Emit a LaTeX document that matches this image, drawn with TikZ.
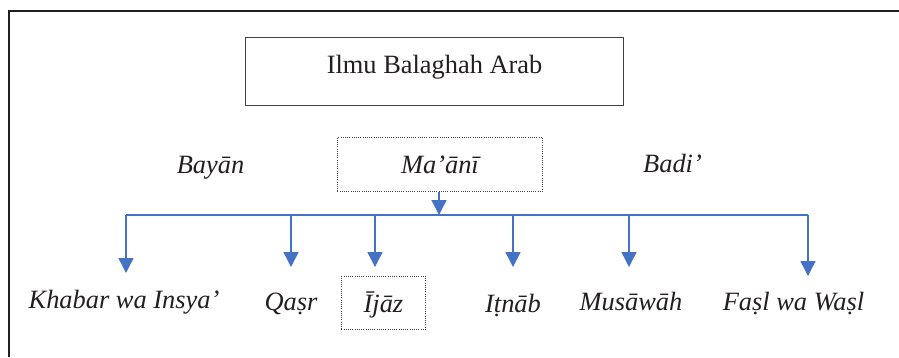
\documentclass[tikz,border=0pt]{standalone}
\usepackage{fontspec}
\setmainfont{Liberation Serif}
\usetikzlibrary{arrows.meta}
\definecolor{ink}{HTML}{231F20}
\definecolor{obl}{HTML}{4472C4}
\begin{document}
\begin{tikzpicture}[x=1bp,y=-1bp,
  every node/.style={font=\fontsize{26.4bp}{30bp}\selectfont, text=ink, inner sep=0pt},
  lbl/.style={font=\fontsize{26.4bp}{30bp}\selectfont\itshape, anchor=base},
  solidbox/.style={draw=ink!85, line width=1.1bp, anchor=north west},
  dotbox/.style={draw=ink!85, line width=0.9bp, dash pattern=on 1bp off 1.2bp, anchor=north west},
  bus/.style={draw=obl, line width=1.4bp},
  arr/.style={draw=obl, line width=1.4bp, -{Triangle[width=15bp,length=15bp]}, fill=obl}
]
\useasboundingbox (0,0) rectangle (899,357);
\fill[white] (0,0) rectangle (899,357);
% outer frame (clipped on right and bottom)
\draw[ink, line width=2.2bp] (9,357) -- (9,11) -- (899,11);

% top box
\node[solidbox, minimum width=378bp, minimum height=68bp, text height=36bp, text depth=32bp] (top) at (245,37) {Ilmu Balaghah Arab};

% second row
\node[lbl] (bayan) at (210.5,173) {Bayān};
\node[dotbox, minimum width=205bp, minimum height=54bp, text height=36bp, text depth=18bp, font=\fontsize{26.4bp}{30bp}\selectfont\itshape] (maani) at (337,137) {Ma’ānī};
\node[lbl] (badi) at (672.5,172) {Badi’};

% bottom row
\node[lbl] (khabar) at (124,308) {Khabar wa Insya’};
\node[lbl] (qasr) at (291,310) {Qaṣr};
\node[dotbox, minimum width=84bp, minimum height=53bp, text height=36bp, text depth=17bp, font=\fontsize{26.4bp}{30bp}\selectfont\itshape] (ijaz) at (341,276) {Ījāz};
\node[lbl] (itnab) at (513,312) {Iṭnāb};
\node[lbl] (musawah) at (631,310) {Musāwāh};
\node[lbl] (fasl) at (793.5,310) {Faṣl wa Waṣl};

% connector coordinates
\coordinate (b0) at (439,215);
\coordinate (t1) at (126,273);
\coordinate (t2) at (291,267);
\coordinate (t3) at (375,267);
\coordinate (t4) at (513,267);
\coordinate (t5) at (629,267);
\coordinate (t6) at (808,276);

\draw[bus] (t1 |- b0) -- (t6 |- b0);
\draw[arr] (maani.south -| b0) -- (b0);
\foreach \t in {t1,t2,t3,t4,t5,t6}{
  \draw[arr] (\t |- b0) -- (\t);
}
\end{tikzpicture}
\end{document}
